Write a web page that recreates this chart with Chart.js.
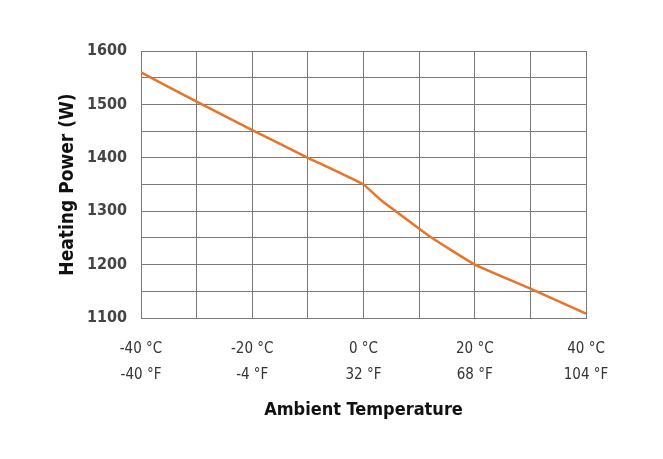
<!DOCTYPE html>
<html>
<head>
<meta charset="utf-8">
<script src="https://cdn.jsdelivr.net/npm/chart.js@4"></script>
<style>
html,body{margin:0;padding:0;background:#fff;}
#wrap{width:663px;height:459px;}
</style>
</head>
<body>
<div id="wrap"><canvas id="c" width="663" height="459"></canvas></div>
<script>
const tempsC = [-40, -30, -20, -10, 0, 3, 12, 20, 30, 40];
const powerW = [1560, 1505, 1452, 1400, 1350, 1322, 1252, 1200, 1155, 1108];
const xTickLabels = {"-40": ["-40 °C", "-40 °F"], "-20": ["-20 °C", "-4 °F"], "0": ["0 °C", "32 °F"], "20": ["20 °C", "68 °F"], "40": ["40 °C", "104 °F"]};
const yTickLabels = [1100, 1200, 1300, 1400, 1500, 1600];

const FONT = "'Liberation Sans Narrow', 'DejaVu Sans Condensed', 'Liberation Sans', sans-serif";

new Chart(document.getElementById('c'), {
  type: 'line',
  data: {
    datasets: [{
      data: tempsC.map((t, i) => ({x: t, y: powerW[i]})),
      borderColor: '#e8742a',
      borderWidth: 2.5,
      pointRadius: 0,
      tension: 0.1,
      fill: false
    }]
  },
  options: {
    responsive: false,
    animation: false,
    layout: {padding: {left: 0, right: 77, top: 51, bottom: 0}},
    plugins: {legend: {display: false}, tooltip: {enabled: false}},
    scales: {
      x: {
        type: 'linear', min: -40, max: 40,
        afterFit: s => { s.height = 141; },
        ticks: {
          stepSize: 10, autoSkip: false, maxRotation: 0, padding: 18,
          color: '#333',
          font: {family: FONT, size: 15, lineHeight: 1.75},
          callback: v => xTickLabels[String(v)] || ''
        },
        grid: {color: '#7a7a7a', lineWidth: 1, drawTicks: false},
        border: {color: '#7a7a7a'},
        title: {
          display: true, text: 'Ambient Temperature', color: '#111',
          font: {family: FONT, size: 18, weight: 'bold', lineHeight: 1.2},
          padding: {top: 0, bottom: 38}
        }
      },
      y: {
        min: 1100, max: 1600,
        afterFit: s => { s.width = 141; },
        ticks: {
          stepSize: 50, autoSkip: false, padding: 14,
          color: '#444',
          font: {family: FONT, size: 16, weight: 'bold'},
          callback: v => yTickLabels.includes(v) ? String(v) : ''
        },
        grid: {color: '#7a7a7a', lineWidth: 1, drawTicks: false},
        border: {color: '#7a7a7a'},
        title: {
          display: true, text: 'Heating Power (W)', color: '#111',
          font: {family: FONT, size: 19, weight: 'bold', lineHeight: 1.2},
          padding: {top: 57, bottom: 0}
        }
      }
    }
  }
});
</script>
</body>
</html>
